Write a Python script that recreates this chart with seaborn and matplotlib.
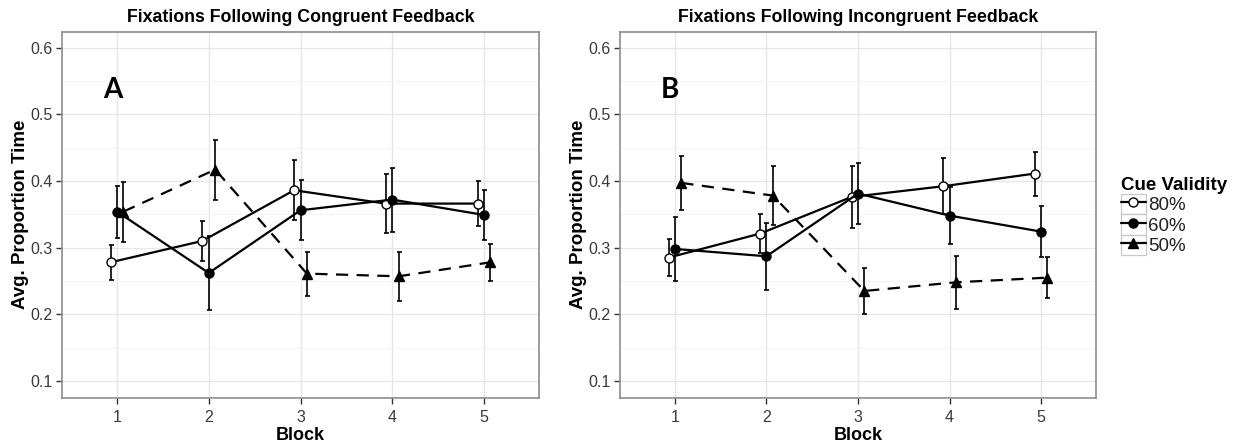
import numpy as np
import pandas as pd
import matplotlib
matplotlib.use("Agg")
import matplotlib.pyplot as plt
import seaborn as sns
from matplotlib.ticker import MultipleLocator, FixedLocator
from matplotlib.legend_handler import HandlerLine2D
from matplotlib.patches import Rectangle
from matplotlib.lines import Line2D

# ---------------- data ----------------
blocks = [1, 2, 3, 4, 5]
validities = ["80%", "60%", "50%"]

cong_80 = [0.278, 0.310, 0.386, 0.366, 0.366]
cong_80_se = [0.026, 0.030, 0.045, 0.044, 0.034]
cong_60 = [0.354, 0.262, 0.356, 0.372, 0.349]
cong_60_se = [0.039, 0.055, 0.045, 0.048, 0.038]
cong_50 = [0.354, 0.417, 0.261, 0.257, 0.278]
cong_50_se = [0.045, 0.045, 0.033, 0.037, 0.028]

incong_80 = [0.285, 0.321, 0.376, 0.392, 0.411]
incong_80_se = [0.028, 0.029, 0.046, 0.042, 0.033]
incong_60 = [0.298, 0.287, 0.381, 0.348, 0.324]
incong_60_se = [0.048, 0.050, 0.046, 0.043, 0.038]
incong_50 = [0.397, 0.378, 0.235, 0.248, 0.255]
incong_50_se = [0.040, 0.044, 0.035, 0.040, 0.031]

titles = ["Fixations Following Congruent Feedback",
          "Fixations Following Incongruent Feedback"]
panel_letters = ["A", "B"]
y_ticks = [0.1, 0.2, 0.3, 0.4, 0.5, 0.6]

panels = [
    {"80%": (cong_80, cong_80_se), "60%": (cong_60, cong_60_se), "50%": (cong_50, cong_50_se)},
    {"80%": (incong_80, incong_80_se), "60%": (incong_60, incong_60_se), "50%": (incong_50, incong_50_se)},
]

# ---------------- styles ----------------
dodge = {"80%": -0.07, "60%": 0.0, "50%": 0.07}
marker = {"80%": "o", "60%": "o", "50%": "^"}
face = {"80%": "white", "60%": "black", "50%": "black"}
msize = {"80%": 6.5, "60%": 6.5, "50%": 7.2}
lstyle = {"80%": "solid", "60%": "solid", "50%": (0, (5.5, 3.8))}

sns.set_theme(style="white")
plt.rcParams["font.family"] = ["Liberation Sans", "DejaVu Sans"]
plt.rcParams["text.color"] = "black"
plt.rcParams["axes.labelcolor"] = "black"

fig = plt.figure(figsize=(12.48, 4.47), dpi=100)
W, H = 1248, 447
ax_boxes = [(62, 539), (620, 1096)]
top_px, bot_px = 31.5, 397.7

tick_color = "#3a3a3a"
handles = {}
for i, (x0, x1) in enumerate(ax_boxes):
    ax = fig.add_axes([x0 / W, 1 - bot_px / H, (x1 - x0) / W, (bot_px - top_px) / H])
    rows = []
    for v in validities:
        vals, se = panels[i][v]
        for b, y, e in zip(blocks, vals, se):
            rows.append({"block": b, "x": b + dodge[v], "value": y, "se": e, "validity": v})
    df = pd.DataFrame(rows)
    for v in validities:
        d = df[df["validity"] == v]
        ax.errorbar(d["x"], d["value"], yerr=d["se"], fmt="none", ecolor="black",
                    elinewidth=1.2, capsize=1.8, capthick=1.2, zorder=2)
        sns.lineplot(data=d, x="x", y="value", ax=ax, color="black", lw=1.6,
                     linestyle=lstyle[v], marker=marker[v], markersize=msize[v],
                     markerfacecolor=face[v], markeredgecolor="black",
                     markeredgewidth=1.0, zorder=3, legend=False, errorbar=None)
        handles[v] = Line2D([], [], color="black", lw=1.6, linestyle="solid",
                            marker=marker[v], markersize=msize[v],
                            markerfacecolor=face[v], markeredgecolor="black",
                            markeredgewidth=1.0)
    ax.set_xlim(0.4, 5.6)
    ax.set_ylim(0.075, 0.624)
    ax.xaxis.set_major_locator(FixedLocator(blocks))
    ax.set_xticklabels([str(b) for b in blocks])
    ax.yaxis.set_major_locator(FixedLocator(y_ticks))
    ax.set_yticklabels([f"{t:.1f}" for t in y_ticks])
    ax.yaxis.set_minor_locator(MultipleLocator(0.05))
    ax.grid(which="major", color="#E6E6E6", lw=1.0, zorder=0)
    ax.grid(which="minor", axis="y", color="#F4F4F4", lw=0.8, zorder=0)
    ax.set_axisbelow(True)
    ax.tick_params(which="major", axis="both", direction="out", length=4, width=1.0,
                   color="#333333", labelsize=11.5, labelcolor=tick_color, pad=3,
                   bottom=True, left=True)
    ax.tick_params(axis="x", pad=5)
    ax.tick_params(which="minor", length=0)
    for s in ax.spines.values():
        s.set_color("#8C8C8C")
        s.set_linewidth(1.2)
    ax.set_xlabel("Block", fontsize=13, fontweight="bold", labelpad=1)
    ax.set_ylabel("Avg. Proportion Time", fontsize=13.5, fontweight="bold", labelpad=1)
    ax.set_title(titles[i], fontsize=12.8, fontweight="bold", pad=7, color="black")
    ax.text(0.95, 0.537, panel_letters[i], fontsize=20, fontweight="bold",
            family=["Lato", "DejaVu Sans"], ha="center", va="center",
            color="black", transform=ax.transData)


class BoxedHandler(HandlerLine2D):
    def create_artists(self, legend, orig_handle, xdescent, ydescent, width, height,
                       fontsize, trans):
        arts = super().create_artists(legend, orig_handle, xdescent, ydescent, width,
                                      height, fontsize, trans)
        rect = Rectangle((-xdescent, -ydescent), width, height, transform=trans,
                         fill=False, edgecolor="#C8C8C8", lw=0.9)
        return [rect] + list(arts)


leg = fig.legend([handles[v] for v in validities], validities,
                 title="Cue Validity", loc="center left",
                 bbox_to_anchor=(1108 / W, 1 - 216 / H), frameon=False,
                 fontsize=13.5, title_fontproperties={"weight": "bold", "size": 13.5},
                 handlelength=1.3, handleheight=1.3, handletextpad=0.15,
                 labelspacing=0.0, borderpad=0.2, numpoints=1,
                 handler_map={Line2D: BoxedHandler(numpoints=1)})
leg._legend_box.align = "left"
for t in leg.get_texts():
    t.set_color("#222222")

fig.savefig("out.png", dpi=100)
